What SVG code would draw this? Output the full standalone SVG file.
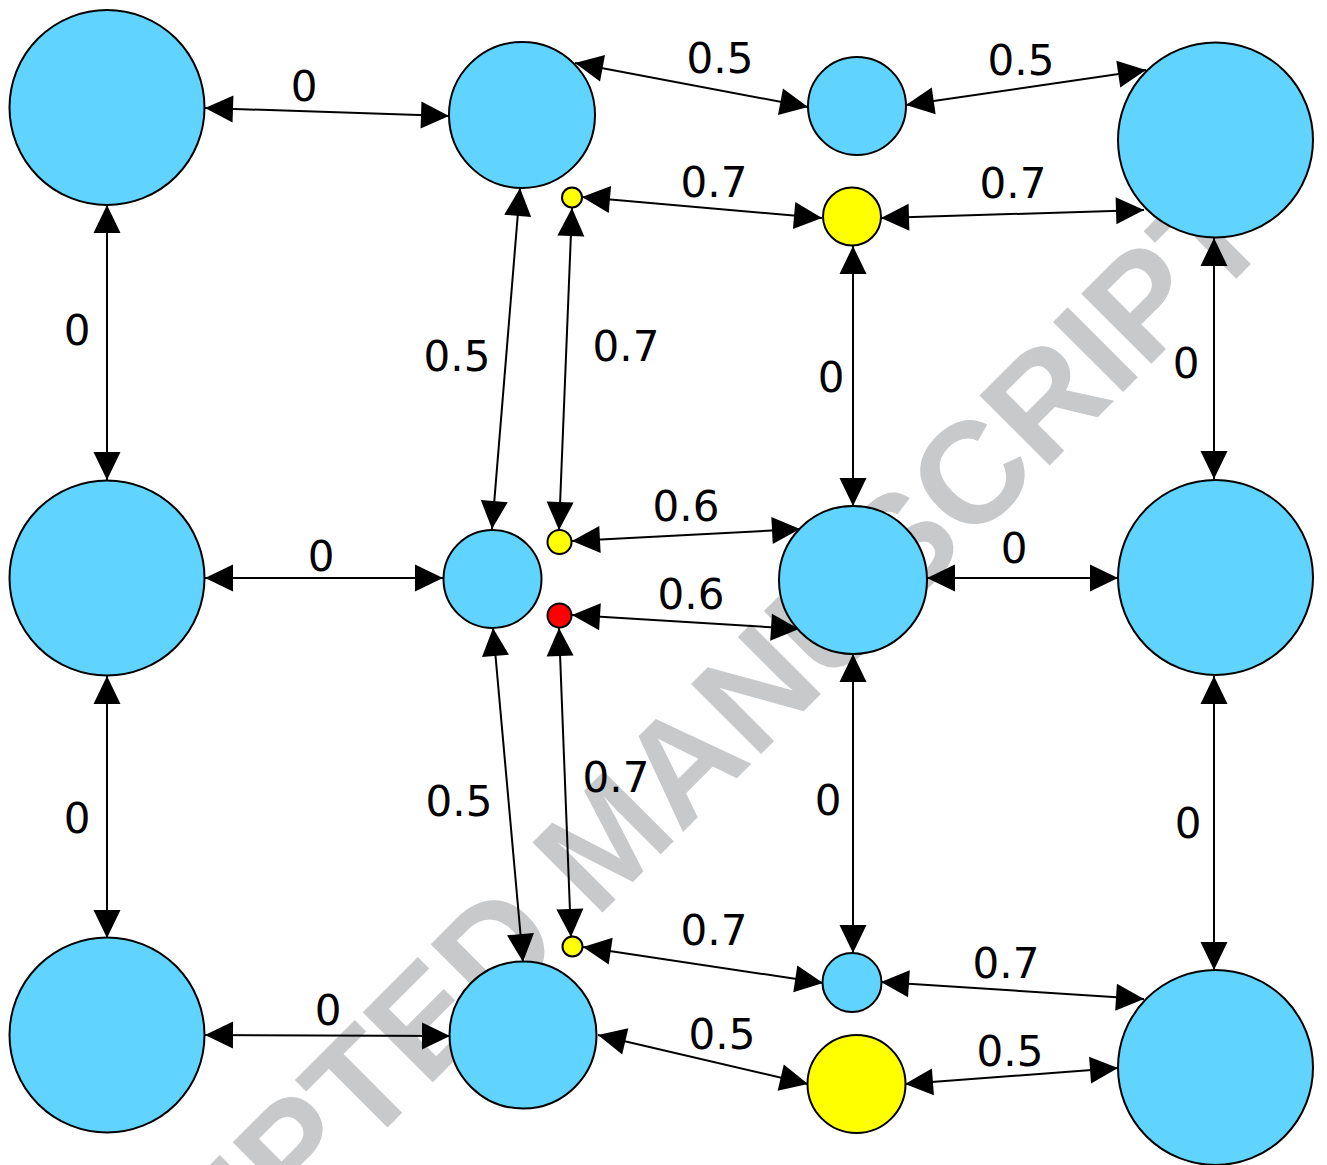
<svg xmlns="http://www.w3.org/2000/svg" width="1327" height="1165" viewBox="0 0 1327 1165">
<defs>
<style>
.n{stroke:#000;stroke-width:2}
.b{fill:#60d4fe}
.y{fill:#ffff00}
.r{fill:#ff0000}
.e{stroke:#000;stroke-width:2;fill:none;marker-start:url(#ah);marker-end:url(#ah)}
.l{font-family:"DejaVu Sans",Verdana,sans-serif;font-size:42px;fill:#000;text-anchor:middle}
.wm{font-family:"Liberation Sans",Arial,sans-serif;font-weight:bold;font-size:144px;fill:#c8c9cb;text-anchor:middle}
</style>
<marker id="ah" markerUnits="userSpaceOnUse" markerWidth="30" markerHeight="30" refX="28" refY="13.5" orient="auto-start-reverse" overflow="visible">
<path d="M0,0 L28,13.5 L0,27 Z" fill="#000"/>
</marker>
</defs>
<rect width="1327" height="1165" fill="#fff"/>
<text class="wm" transform="translate(641,874) rotate(-45)">ACCEPTED MANUSCRIPT</text>
<g id="connectors">
<line class="e" x1="205" y1="108" x2="449" y2="116"/>
<line class="e" x1="575" y1="63" x2="808" y2="107"/>
<line class="e" x1="906" y1="105" x2="1146" y2="70"/>
<line class="e" x1="582" y1="197" x2="822" y2="218"/>
<line class="e" x1="881" y1="218" x2="1144" y2="210"/>
<line class="e" x1="107" y1="205" x2="107" y2="480"/>
<line class="e" x1="520" y1="188" x2="492" y2="529"/>
<line class="e" x1="572" y1="208" x2="559" y2="530"/>
<line class="e" x1="853" y1="246" x2="853" y2="506"/>
<line class="e" x1="1214" y1="238" x2="1214" y2="479"/>
<line class="e" x1="205" y1="578" x2="443" y2="578"/>
<line class="e" x1="572" y1="541" x2="800" y2="529"/>
<line class="e" x1="572" y1="615" x2="799" y2="629"/>
<line class="e" x1="927" y1="578" x2="1118" y2="578"/>
<line class="e" x1="107" y1="676" x2="107" y2="938"/>
<line class="e" x1="493" y1="628" x2="523" y2="962"/>
<line class="e" x1="559" y1="628" x2="571" y2="937"/>
<line class="e" x1="853" y1="654" x2="853" y2="953"/>
<line class="e" x1="1214" y1="676" x2="1214" y2="970"/>
<line class="e" x1="205" y1="1035" x2="450" y2="1036"/>
<line class="e" x1="583" y1="947" x2="823" y2="983"/>
<line class="e" x1="881" y1="982" x2="1144" y2="999"/>
<line class="e" x1="598" y1="1035" x2="808" y2="1084"/>
<line class="e" x1="905" y1="1084" x2="1118" y2="1068"/>
</g>
<g id="labels">
<text class="l" x="304" y="101">0</text>
<text class="l" x="720" y="73">0.5</text>
<text class="l" x="1021" y="75">0.5</text>
<text class="l" x="714" y="197">0.7</text>
<text class="l" x="1013" y="198">0.7</text>
<text class="l" x="77" y="345">0</text>
<text class="l" x="457" y="371">0.5</text>
<text class="l" x="626" y="361">0.7</text>
<text class="l" x="831" y="392">0</text>
<text class="l" x="1186" y="378">0</text>
<text class="l" x="321" y="571">0</text>
<text class="l" x="686" y="521">0.6</text>
<text class="l" x="691" y="609">0.6</text>
<text class="l" x="1014" y="563">0</text>
<text class="l" x="77" y="833">0</text>
<text class="l" x="459" y="816">0.5</text>
<text class="l" x="616" y="792">0.7</text>
<text class="l" x="828" y="815">0</text>
<text class="l" x="1188" y="838">0</text>
<text class="l" x="328" y="1025">0</text>
<text class="l" x="714" y="945">0.7</text>
<text class="l" x="1006" y="978">0.7</text>
<text class="l" x="722" y="1049">0.5</text>
<text class="l" x="1010" y="1066">0.5</text>
</g>
<g id="n1"><circle class="n b" cx="107" cy="107.5" r="97.5"/></g>
<g id="n2"><circle class="n b" cx="522" cy="115" r="73"/></g>
<g id="n3"><circle class="n b" cx="857" cy="106" r="49"/></g>
<g id="n4"><circle class="n b" cx="1215.5" cy="140" r="97.5"/></g>
<g id="n5"><circle class="n y" cx="572" cy="197.5" r="10"/></g>
<g id="n6"><circle class="n y" cx="852" cy="216.5" r="29"/></g>
<g id="n7"><circle class="n b" cx="107" cy="578" r="97.5"/></g>
<g id="n8"><circle class="n b" cx="492.5" cy="579" r="49"/></g>
<g id="n9"><circle class="n y" cx="559.5" cy="542" r="12"/></g>
<g id="n10"><circle class="n r" cx="559.5" cy="615.5" r="12"/></g>
<g id="n11"><circle class="n b" cx="853" cy="580" r="74"/></g>
<g id="n12"><circle class="n b" cx="1215.5" cy="577.5" r="97.5"/></g>
<g id="n13"><circle class="n b" cx="107" cy="1035" r="97.5"/></g>
<g id="n14"><circle class="n b" cx="523" cy="1035" r="73.5"/></g>
<g id="n15"><circle class="n y" cx="572.5" cy="946.5" r="10"/></g>
<g id="n16"><circle class="n b" cx="852" cy="982.5" r="29.5"/></g>
<g id="n17"><circle class="n y" cx="856.5" cy="1084" r="49"/></g>
<g id="n18"><circle class="n b" cx="1215.5" cy="1067.5" r="97.5"/></g>
</svg>
